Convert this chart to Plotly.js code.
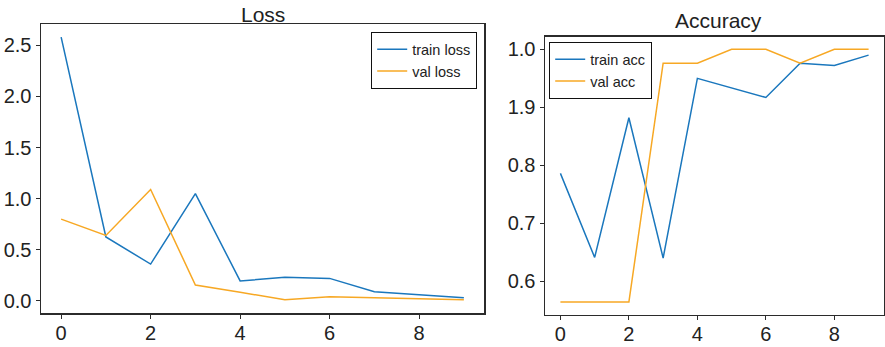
<!DOCTYPE html>
<html>
<head>
<meta charset="utf-8">
<script src="https://cdn.plot.ly/plotly-3.0.1.min.js"></script>
<style>html,body{margin:0;padding:0;background:#fff;}#chart{width:885px;height:347px;}</style>
</head>
<body>
<div id="chart"></div>
<script>
const epochs = [0,1,2,3,4,5,6,7,8,9];
const trainLoss = [2.58, 0.625, 0.36, 1.05, 0.195, 0.23, 0.22, 0.09, 0.06, 0.03];
const valLoss   = [0.80, 0.64, 1.09, 0.155, 0.085, 0.01, 0.04, 0.03, 0.02, 0.01];
const trainAcc  = [0.786, 0.641, 0.882, 0.640, 0.950, 0.934, 0.917, 0.976, 0.972, 0.990];
const valAcc    = [0.564, 0.564, 0.564, 0.976, 0.976, 1.0, 1.0, 0.976, 1.0, 1.0];
const lossTicks = [0.0, 0.5, 1.0, 1.5, 2.0, 2.5];
const lossTickText = ["0.0","0.5","1.0","1.5","2.0","2.5"];
const accTicks = [0.6, 0.7, 0.8, 0.9, 1.0];
const accTickText = ["0.6","0.7","0.8","1.9","1.0"];
const xTicks = [0,2,4,6,8];

const BLUE = '#1a77bd';
const ORANGE = '#f7a824';
const FRAME = '#2b2b2b';

const traces = [
  {x: epochs, y: trainLoss, name: 'train loss', mode: 'lines', line: {color: BLUE, width: 1.5}, xaxis: 'x', yaxis: 'y', legend: 'legend'},
  {x: epochs, y: valLoss, name: 'val loss', mode: 'lines', line: {color: ORANGE, width: 1.5}, xaxis: 'x', yaxis: 'y', legend: 'legend'},
  {x: epochs, y: trainAcc, name: 'train acc', mode: 'lines', line: {color: BLUE, width: 1.5}, xaxis: 'x2', yaxis: 'y2', legend: 'legend2'},
  {x: epochs, y: valAcc, name: 'val acc', mode: 'lines', line: {color: ORANGE, width: 1.5}, xaxis: 'x2', yaxis: 'y2', legend: 'legend2'}
];

const axBase = {
  showgrid: false, zeroline: false, showline: true, mirror: true,
  linecolor: FRAME, linewidth: 1.5, ticks: 'outside', ticklen: 4, tickwidth: 1.2,
  tickcolor: FRAME, tickfont: {family: 'Liberation Sans, Arial, sans-serif', size: 20, color: '#222'}
};

const legBase = {
  bgcolor: 'rgba(255,255,255,1)', bordercolor: '#111', borderwidth: 1.2,
  font: {family: 'Liberation Sans, Arial, sans-serif', size: 14.5, color: '#222'},
  tracegroupgap: 0, itemwidth: 30
};

const layout = {
  width: 885, height: 347,
  margin: {l: 0, r: 0, t: 0, b: 0},
  paper_bgcolor: '#fff', plot_bgcolor: '#fff',
  showlegend: true,
  xaxis: Object.assign({}, axBase, {domain: [41/885, 484/885], range: [-0.45, 9.45], tickvals: xTicks, anchor: 'y', ticklabelstandoff: -3}),
  yaxis: Object.assign({}, axBase, {domain: [1-313/347, 1-24/347], range: [-0.1185, 2.7085], tickvals: lossTicks, ticktext: lossTickText, anchor: 'x'}),
  xaxis2: Object.assign({}, axBase, {domain: [545/885, 884/885], range: [-0.45, 9.45], tickvals: xTicks, anchor: 'y2', ticklabelstandoff: -3}),
  yaxis2: Object.assign({}, axBase, {domain: [1-314.7/347, 1-36.7/347], range: [0.5422, 1.0218], tickvals: accTicks, ticktext: accTickText, anchor: 'x2'}),
  legend: Object.assign({}, legBase, {x: 477/885, y: 1-32/347, xanchor: 'right', yanchor: 'top'}),
  legend2: Object.assign({}, legBase, {x: 549/885, y: 1-42/347, xanchor: 'left', yanchor: 'top'}),
  annotations: [
    {text: 'Loss', xref: 'paper', yref: 'paper', x: 262.5/885, y: 1-14/347, xanchor: 'center', yanchor: 'middle', showarrow: false,
     font: {family: 'Liberation Sans, Arial, sans-serif', size: 21, color: '#222'}},
    {text: 'Accuracy', xref: 'paper', yref: 'paper', x: 718/885, y: 1-20/347, xanchor: 'center', yanchor: 'middle', showarrow: false,
     font: {family: 'Liberation Sans, Arial, sans-serif', size: 21, color: '#222'}}
  ]
};

Plotly.newPlot('chart', traces, layout, {displayModeBar: false, staticPlot: true});
</script>
</body>
</html>
